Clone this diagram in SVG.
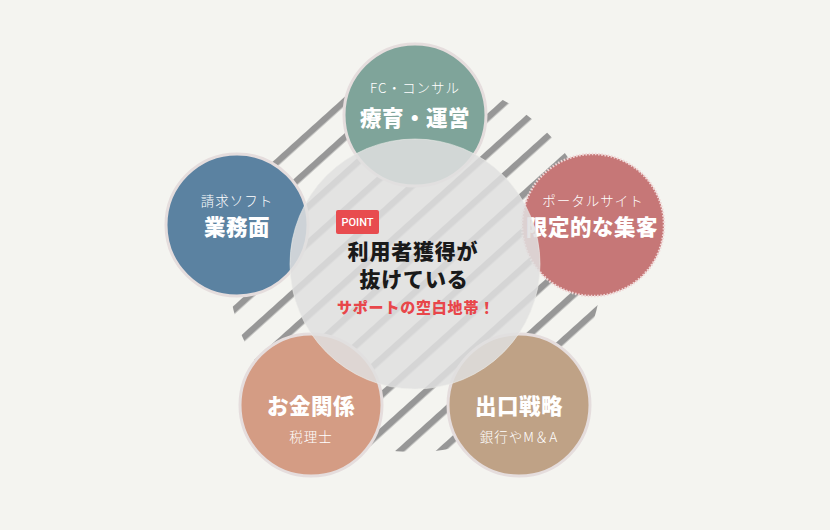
<svg xmlns="http://www.w3.org/2000/svg" width="830" height="530" viewBox="0 0 830 530">
  <defs>
    <pattern id="stripes" patternUnits="userSpaceOnUse" width="27" height="27" patternTransform="rotate(48 415 265)">
      <rect x="0" y="0" width="6.5" height="27" fill="#979797"/>
    </pattern>
    <clipPath id="stripeClip">
      <circle cx="415" cy="265" r="187"/>
    </clipPath>
    <style>
      .jp { font-family: "Noto Sans CJK JP", "Noto Sans", sans-serif; text-anchor: middle; }
      .sub { font-size: 13.5px; font-weight: 300; fill: #ffffff; letter-spacing: 1px; }
      .main { font-size: 21.5px; font-weight: 900; fill: #ffffff; letter-spacing: 0.5px; }
      .outer { stroke: #e5dddd; stroke-width: 3; }
    </style>
  </defs>
  <rect x="0" y="0" width="830" height="530" fill="#f4f4f0"/>
  <g id="hatch">
    <rect x="220" y="70" width="390" height="390" fill="url(#stripes)" clip-path="url(#stripeClip)"/>
  </g>
  <g id="connectors"/>
  <g id="node-top">
    <circle class="outer" cx="415" cy="115" r="71" fill="#7fa49a"/>
    <text class="jp sub" x="415" y="93">FC・コンサル</text>
    <text class="jp main" x="415" y="126">療育・運営</text>
  </g>
  <g id="node-left">
    <circle class="outer" cx="237" cy="225" r="71" fill="#5b82a1"/>
    <text class="jp sub" x="237" y="206">請求ソフト</text>
    <text class="jp main" x="237" y="235">業務面</text>
  </g>
  <g id="node-right">
    <circle cx="593" cy="225" r="71" fill="#c67777" stroke="#f0d6d6" stroke-width="2.5" stroke-dasharray="1.6 1.6"/>
    <text class="jp sub" x="593" y="206">ポータルサイト</text>
    <text class="jp main" x="592" y="235">限定的な集客</text>
  </g>
  <g id="node-bottom-left">
    <circle class="outer" cx="311" cy="405" r="71" fill="#d49c84"/>
    <text class="jp main" x="311" y="414">お金関係</text>
    <text class="jp sub" x="311" y="442">税理士</text>
  </g>
  <g id="node-bottom-right">
    <circle class="outer" cx="519" cy="405" r="71" fill="#bfa286"/>
    <text class="jp main" x="519" y="414">出口戦略</text>
    <text class="jp sub" x="519" y="442">銀行やM＆A</text>
  </g>
  <g id="node-center">
    <circle cx="415" cy="264" r="125" fill="#e0e0df" fill-opacity="0.86" stroke="#ececea" stroke-opacity="0.6" stroke-width="1"/>
    <rect x="336" y="210" width="43" height="24" rx="2" fill="#e84c4f"/>
    <text x="357.5" y="226" font-family="Roboto, 'Liberation Sans', sans-serif" font-size="11" font-weight="500" fill="#ffffff" text-anchor="middle">POINT</text>
    <text class="jp" x="413" y="259" font-size="21" font-weight="900" fill="#1a1a1a" letter-spacing="0.8">利用者獲得が</text>
    <text class="jp" x="414" y="287" font-size="21" font-weight="900" fill="#1a1a1a" letter-spacing="0.8">抜けている</text>
    <text class="jp" x="416" y="313" font-size="15" font-weight="900" fill="#e8464a" letter-spacing="0.8">サポートの空白地帯！</text>
  </g>
</svg>
